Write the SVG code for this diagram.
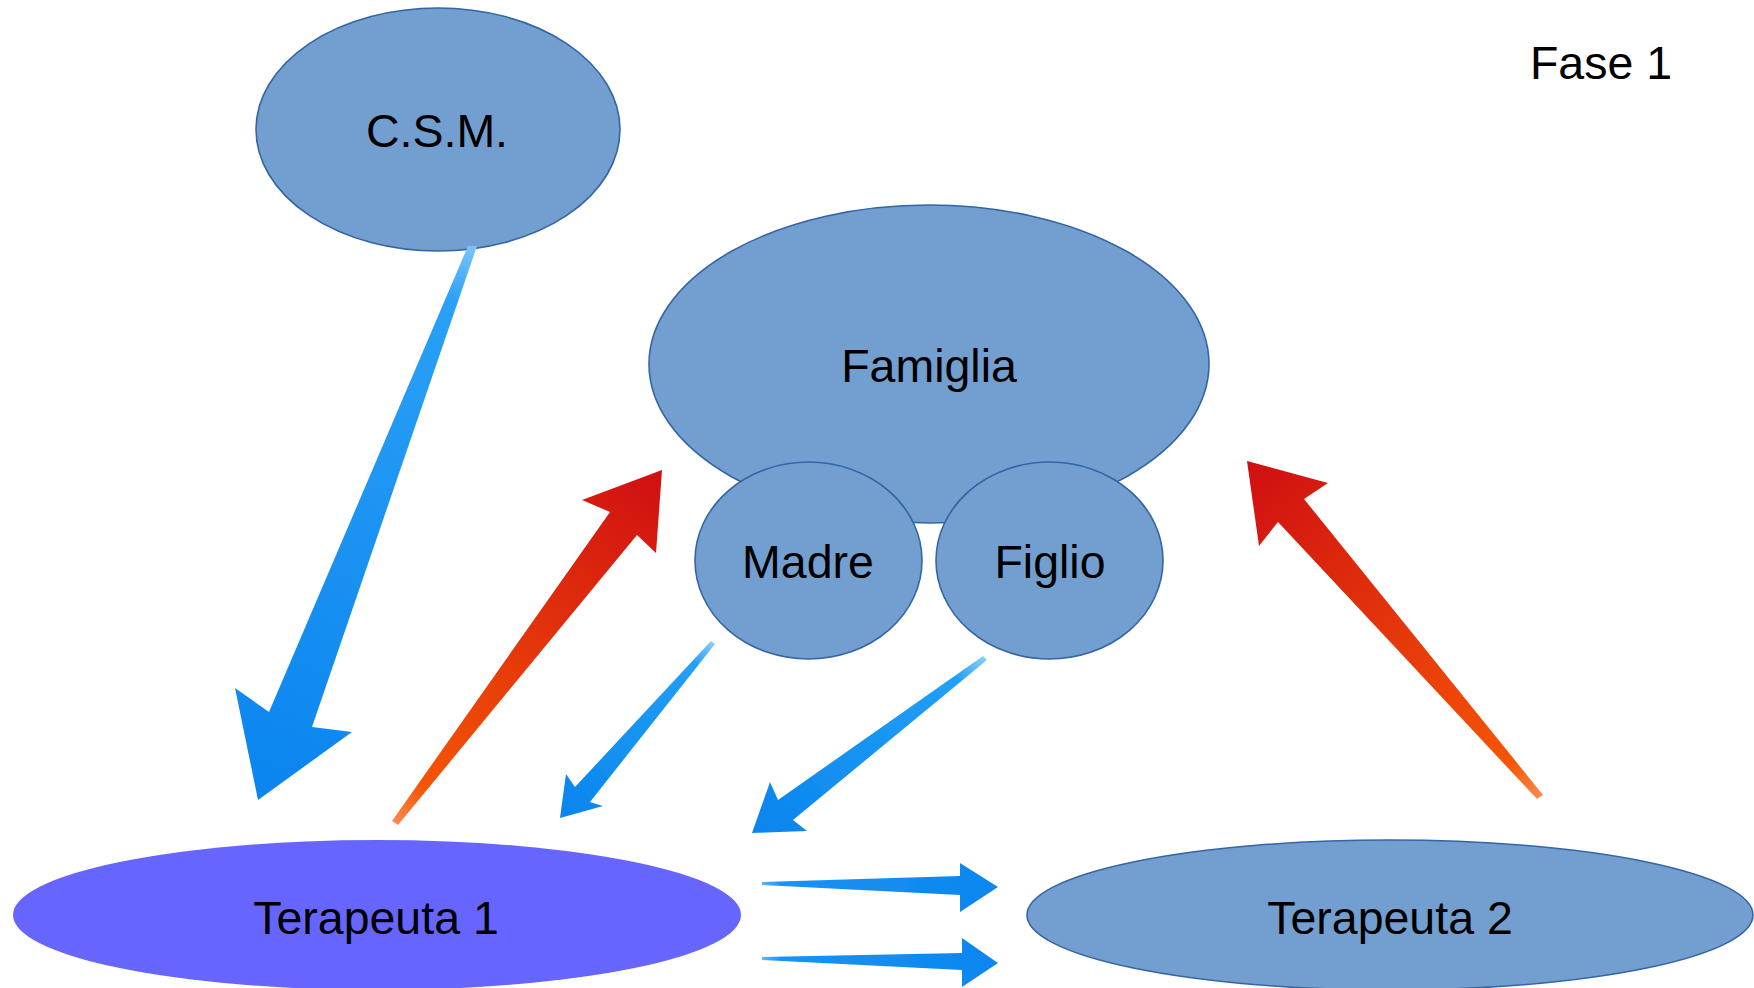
<svg xmlns="http://www.w3.org/2000/svg" width="1754" height="988" viewBox="0 0 1754 988">
<style>
.node{fill:#729fcf;stroke:#3465a4;stroke-width:1.6}
.t1{fill:#6666ff;stroke:none}
.lbl{font-family:"Liberation Sans",Arial,sans-serif;font-size:46.5px;fill:#000;text-anchor:middle}
</style>
<defs>
<linearGradient id="gBlueA" gradientUnits="userSpaceOnUse" x1="473" y1="245" x2="258" y2="800">
<stop offset="0" stop-color="#7cc6fa"/><stop offset="0.1" stop-color="#2aa0f6"/><stop offset="1" stop-color="#0a84ef"/>
</linearGradient>
<linearGradient id="gRed2" gradientUnits="userSpaceOnUse" x1="395" y1="823" x2="662" y2="470">
<stop offset="0" stop-color="#fb8a50"/><stop offset="0.1" stop-color="#f55505"/><stop offset="1" stop-color="#cf0f12"/>
</linearGradient>
<linearGradient id="gRed3" gradientUnits="userSpaceOnUse" x1="1540" y1="797" x2="1247" y2="461">
<stop offset="0" stop-color="#fb8a50"/><stop offset="0.1" stop-color="#f55505"/><stop offset="1" stop-color="#cf0f12"/>
</linearGradient>
<linearGradient id="gBlue4" gradientUnits="userSpaceOnUse" x1="713" y1="642" x2="560" y2="818">
<stop offset="0" stop-color="#8ccdf9"/><stop offset="0.12" stop-color="#22a0f6"/><stop offset="1" stop-color="#0a84ee"/>
</linearGradient>
<linearGradient id="gBlue5" gradientUnits="userSpaceOnUse" x1="985" y1="658" x2="752" y2="833">
<stop offset="0" stop-color="#8ccdf9"/><stop offset="0.12" stop-color="#22a0f6"/><stop offset="1" stop-color="#0a84ee"/>
</linearGradient>
<linearGradient id="gBlueH" x1="0" y1="0" x2="1" y2="0">
<stop offset="0" stop-color="#5ab8f8"/><stop offset="0.08" stop-color="#1b92f2"/><stop offset="1" stop-color="#0b86ef"/>
</linearGradient>
<filter id="soft" x="-10%" y="-10%" width="120%" height="120%"><feGaussianBlur stdDeviation="0.7"/></filter>
</defs>
<rect width="1754" height="988" fill="#ffffff"/>
<g id="famiglia">
<ellipse class="node" cx="929" cy="364" rx="280" ry="159"/>
<text class="lbl" x="929" y="382">Famiglia</text>
</g>
<g id="madre">
<ellipse class="node" cx="808.5" cy="560.5" rx="113.5" ry="98.5"/>
<text class="lbl" x="808" y="578">Madre</text>
</g>
<g id="figlio">
<ellipse class="node" cx="1049.5" cy="560.5" rx="113.5" ry="98.5"/>
<text class="lbl" x="1050" y="578">Figlio</text>
</g>
<g id="csm">
<ellipse class="node" cx="438" cy="129.5" rx="182" ry="121.5"/>
<text class="lbl" x="437" y="147">C.S.M.</text>
</g>
<g id="terapeuta1">
<ellipse class="t1" cx="377" cy="915" rx="364" ry="75"/>
<text class="lbl" x="376" y="934">Terapeuta 1</text>
</g>
<g id="terapeuta2">
<ellipse class="node" cx="1390" cy="915" rx="363" ry="75"/>
<text class="lbl" x="1390" y="934">Terapeuta 2</text>
</g>
<g id="fase">
<text class="lbl" x="1601" y="79">Fase 1</text>
</g>
<g id="connectors">
<polygon fill="url(#gBlueA)" points="468,246 477,246 312,727 352,732 258,800 235,688 269,712"/>
<polygon fill="url(#gRed2)" points="392,821 398,825 637,535 656,553 662,470 582,500 610,512"/>
<polygon fill="url(#gRed3)" points="1543,795 1537,799 1278,522 1259,546 1247,461 1328,483 1304,499"/>
<g filter="url(#soft)">
<polygon fill="url(#gBlue4)" points="711,641 715,644 590,802 603,806 560,818 566,774 575,787"/>
<polygon fill="url(#gBlue5)" points="983,656 987,660 793,820 807,831 752,833 770,782 778,800"/>
<polygon fill="url(#gBlueH)" points="762,882 960,876 960,863 998,887 960,912 960,895 762,885"/>
<polygon fill="url(#gBlueH)" points="762,957 962,953 962,938 998,963 962,987 962,970 762,960"/>
</g>
</g>
</svg>
